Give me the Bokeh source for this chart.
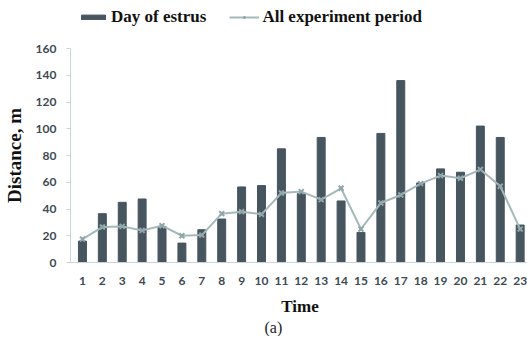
from bokeh.plotting import figure
from bokeh.layouts import column
from bokeh.models import (Range1d, FixedTicker, Legend, LegendItem, Title,
                          ColumnDataSource)
from bokeh.embed import file_html
from bokeh.resources import INLINE

time = list(range(1, 24))
estrus = [16, 36.5, 45, 47.5, 27, 14.5, 24.5, 32.5, 56.5, 57.5, 85, 51.5,
          93.5, 46, 22.5, 96.5, 136, 59.5, 70, 67.5, 102, 93.5, 28]
all_period = [17.5, 26.5, 27, 24, 27.5, 20, 20.5, 36.5, 38, 36, 52, 53, 47,
              55.5, 25, 44.5, 50.5, 59, 65, 63, 69.5, 57, 25]
y_ticks = [0, 20, 40, 60, 80, 100, 120, 140, 160]

bar_color = "#46555e"
line_color = "#a6b9ba"
marker_color = "#90a6a8"
axis_col = "#c8d5d6"
lab_col = "#3e4a52"

src = ColumnDataSource(dict(t=time, e=estrus, a=all_period))

# ---- main chart ----
p = figure(frame_width=459, frame_height=214, output_backend="svg",
           toolbar_location=None,
           x_range=Range1d(0.4, 23.47), y_range=Range1d(0, 160),
           min_border_left=60, min_border_right=0, min_border_top=10,
           min_border_bottom=74)
p.outline_line_color = None
p.xgrid.visible = False
p.ygrid.visible = False

p.vbar(x="t", top="e", width=0.4, source=src, fill_color=bar_color,
       line_color=bar_color)
p.line(x="t", y="a", source=src, line_color=line_color, line_width=2)
p.scatter(x="t", y="a", source=src, marker="x", size=7,
          line_color=marker_color, line_width=2)
p.scatter(x="t", y="a", source=src, marker="circle", size=3,
          fill_color=marker_color, line_color=None)

p.xaxis.ticker = FixedTicker(ticks=time)
p.xaxis.axis_line_color = axis_col
p.xaxis.major_tick_line_color = None
p.xaxis.minor_tick_line_color = None
p.xaxis.major_label_text_font = "Lato"
p.xaxis.major_label_text_font_style = "bold"
p.xaxis.major_label_text_font_size = "12px"
p.xaxis.major_label_text_color = lab_col
p.xaxis.major_label_standoff = 8
p.xaxis.axis_label = "Time"
p.xaxis.axis_label_text_font = "Liberation Serif"
p.xaxis.axis_label_text_font_style = "bold"
p.xaxis.axis_label_text_font_size = "17px"
p.xaxis.axis_label_text_color = "#111111"
p.xaxis.axis_label_standoff = 9

p.yaxis.ticker = FixedTicker(ticks=y_ticks)
p.yaxis.axis_line_color = axis_col
p.yaxis.major_tick_line_color = axis_col
p.yaxis.major_tick_out = 4
p.yaxis.major_tick_in = 0
p.yaxis.minor_tick_line_color = None
p.yaxis.major_label_text_font = "Lato"
p.yaxis.major_label_text_font_style = "bold"
p.yaxis.major_label_text_font_size = "12px"
p.yaxis.major_label_text_color = lab_col
p.yaxis.major_label_standoff = 10
p.yaxis.axis_label = "Distance, m"
p.yaxis.axis_label_text_font = "Liberation Serif"
p.yaxis.axis_label_text_font_style = "bold"
p.yaxis.axis_label_text_font_size = "19px"
p.yaxis.axis_label_text_color = "#111111"
p.yaxis.axis_label_standoff = 8

cap = Title(text="(a)", align="left", offset=194, standoff=-4,
            text_font="Liberation Serif",
            text_font_style="normal", text_font_size="16px",
            text_color="#222222")
p.add_layout(cap, "below")

# ---- legend strip (proxy renderers share the data, hidden) ----
lg = figure(width=519, height=38, output_backend="svg", toolbar_location=None,
            x_range=Range1d(0, 1), y_range=Range1d(0, 1), min_border=0)
lg.axis.visible = False
lg.grid.visible = False
lg.outline_line_color = None
r_bar = lg.vbar(x="t", top="e", width=0.4, source=src, fill_color=bar_color,
                line_color=bar_color, visible=False)
r_ln = lg.line(x="t", y="a", source=src, line_color=line_color, line_width=2,
               visible=False)
r_mk = lg.scatter(x="t", y="a", source=src, marker="x", size=7,
                  line_color=marker_color, line_width=2, visible=False)
r_mk2 = lg.scatter(x="t", y="a", source=src, marker="circle", size=3,
                   fill_color=marker_color, line_color=None, visible=False)

legend = Legend(items=[
    LegendItem(label="Day of estrus", renderers=[r_bar]),
    LegendItem(label="All experiment period", renderers=[r_ln, r_mk, r_mk2]),
], orientation="horizontal", location=(8, 11))
legend.label_text_font = "Liberation Serif"
legend.label_text_font_style = "bold"
legend.label_text_font_size = "17px"
legend.label_text_color = "#111111"
legend.glyph_width = 30
legend.glyph_height = 6
legend.label_standoff = 3
legend.spacing = 23
legend.padding = 0
legend.margin = 0
legend.border_line_color = None
legend.background_fill_alpha = 0
legend.inactive_fill_alpha = 0
lg.add_layout(legend, "center")

layout = column(lg, p, spacing=0)
open("out.html", "w").write(file_html(layout, INLINE))
